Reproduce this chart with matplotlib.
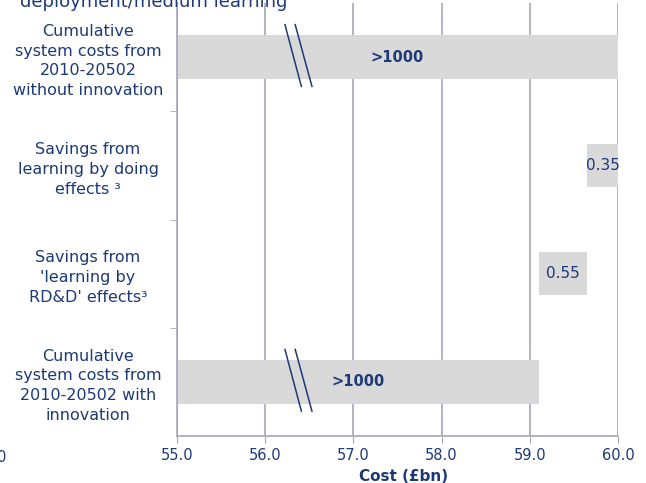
import matplotlib
matplotlib.use("Agg")
import matplotlib.pyplot as plt

# Data
categories = [
    "Cumulative\nsystem costs from\n2010-20502\nwithout innovation",
    "Savings from\nlearning by doing\neffects \u00b3",
    "Savings from\n'learning by\nRD&D' effects\u00b3",
    "Cumulative\nsystem costs from\n2010-20502 with\ninnovation",
]
bar_start = [55.0, 59.65, 59.10, 55.0]
bar_end = [60.0, 60.0, 59.65, 59.10]
bar_labels = [">1000", "0.35", "0.55", ">1000"]
label_bold = [True, False, False, True]
broken = [True, False, False, True]
x_ticks = [55.0, 56.0, 57.0, 58.0, 59.0, 60.0]

navy = "#1c3a78"
grid_col = "#a6a6ba"
bar_col = "#d9d9d9"

fig = plt.figure(figsize=(6.46, 4.83), dpi=100)
ax = fig.add_axes([177 / 646, 1 - 436 / 483, 441 / 646, 433 / 483])

ypos = list(range(len(categories)))
widths = [e - s for s, e in zip(bar_start, bar_end)]
ax.barh(ypos, widths, left=bar_start, height=0.4, color=bar_col, zorder=2)

for y, s, e, lab, b in zip(ypos, bar_start, bar_end, bar_labels, label_bold):
    ax.text((s + e) / 2, y, lab, ha="center", va="center", color=navy,
            fontsize=10.5 if b else 11, fontweight="bold" if b else "normal", zorder=4)

# break marks on the long bars
for y, br in zip(ypos, broken):
    if br:
        ax.plot([56.224, 56.41], [y - 0.3, y + 0.27], color=navy, lw=1.1, zorder=3)
        ax.plot([56.34, 56.53], [y - 0.3, y + 0.27], color=navy, lw=1.1, zorder=3)

ax.set_xlim(55.0, 60.0)
ax.set_ylim(3.5, -0.5)
ax.set_xticks(x_ticks)
ax.set_xticklabels([f"{v:.1f}" for v in x_ticks], color=navy, fontsize=10.5)
ax.set_yticks(ypos)
ax.set_yticklabels(categories, ha="center", multialignment="center",
                   color=navy, fontsize=11.5, linespacing=1.4)
ax.set_yticks([0.5, 1.5, 2.5], minor=True)
ax.tick_params(axis="y", which="major", length=0, pad=64)
ax.tick_params(axis="y", which="minor", length=5, color=grid_col, direction="out")
ax.tick_params(axis="x", length=5, color=grid_col, direction="out", pad=4)

ax.grid(axis="x", color=grid_col, lw=1.2, zorder=1)
ax.set_axisbelow(True)
for side in ["top", "right"]:
    ax.spines[side].set_visible(False)
for side in ["left", "bottom"]:
    ax.spines[side].set_color(grid_col)
    ax.spines[side].set_linewidth(1.2)

ax.set_xlabel("Cost (\u00a3bn)", color=navy, fontsize=11, fontweight="bold")
ax.xaxis.set_label_coords(227 / 441, -33 / 433)

fig.text(154 / 646, 1 - 7 / 483, "deployment/medium learning", ha="center",
         va="baseline", color=navy, fontsize=13)
fig.text(2 / 646, 1 - 458 / 483, "0", ha="center", va="center", color=navy, fontsize=10.5)

fig.savefig("out.png", dpi=100)
